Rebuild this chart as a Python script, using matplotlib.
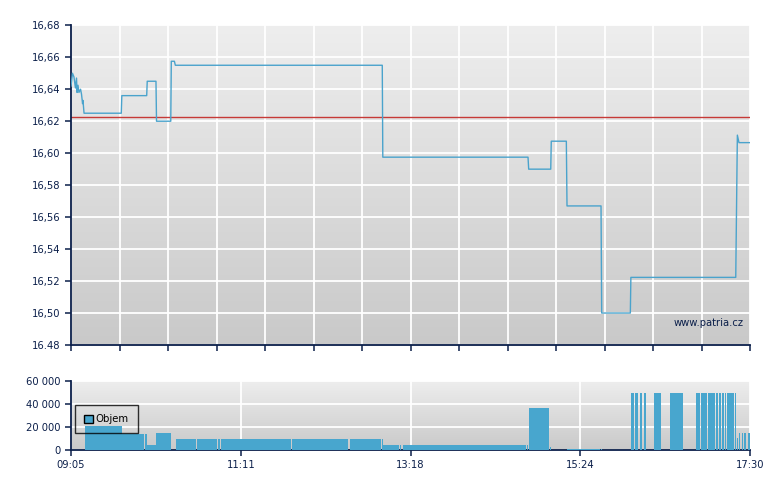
import numpy as np
import matplotlib
matplotlib.use("Agg")
import matplotlib.pyplot as plt
from matplotlib.ticker import FixedLocator, FuncFormatter
from matplotlib.patches import Patch

# times are minutes after the 09:05 open (session ends 17:30 = 505)
open_minute = 9 * 60 + 5
session_len = 505

price_t = [0, 1.1, 2.2, 3.3, 4.1, 4.5, 5.2, 5.9, 7.1, 7.8, 8.6, 8.9, 9.7,
           37.4, 37.8, 56.3, 56.7, 63.2, 63.6, 74.2, 74.6, 76.9, 77.6,
           231.5, 231.9, 339.9, 340.4, 356.8, 357.2, 368.4, 368.9,
           394.2, 394.7, 416.0, 416.4, 494.4, 495.6, 496.8, 505]
price = [16.642, 16.650, 16.6477, 16.6408, 16.647, 16.638, 16.6425, 16.638,
         16.640, 16.637, 16.631, 16.633, 16.625,
         16.625, 16.636, 16.636, 16.645, 16.645, 16.620, 16.620, 16.6575,
         16.6575, 16.655, 16.655, 16.5975, 16.5975, 16.590, 16.590, 16.6075,
         16.6075, 16.567, 16.567, 16.500, 16.500, 16.5223, 16.5223, 16.6113,
         16.6066, 16.6066]
prev_close = 16.6225

vol_start = [10.4, 37.9, 55.0, 56.5, 63.2, 78.1, 93.7, 109.3, 111.6, 164.4,
             207.5, 231.3, 232.0, 244.7, 246.9, 339.1, 340.6, 356.3, 368.9,
             394.2, 416.5, 419.5, 423.2, 426.2, 433.6, 445.5, 464.8, 468.6,
             473.8, 479.7, 482.0, 484.2, 486.4, 487.9, 493.8, 495.3, 496.8,
             499.0, 500.5, 503.5]
vol_end = [37.9, 54.3, 56.5, 63.2, 74.4, 93.0, 108.6, 110.8, 163.6, 206.0,
           230.6, 232.0, 243.9, 245.4, 338.4, 339.9, 355.5, 357.0, 393.4,
           394.9, 418.7, 421.7, 424.7, 427.7, 438.8, 455.2, 467.8, 473.0,
           479.0, 481.2, 483.4, 485.7, 487.1, 493.1, 494.6, 496.0, 497.5,
           499.8, 502.0, 505.0]
volume = [21000, 14100, 14100, 4600, 14700, 9500, 9500, 9500, 9500, 9500,
          9500, 9500, 4300, 4300, 4300, 4300, 36400, 2600, 900,
          900, 49400, 49400, 49400, 49400, 49400, 49400, 49400, 49400,
          49400, 49400, 49400, 49400, 49400, 49400, 49400, 10400, 14700,
          14700, 14700, 14700]

price_ticks = [16.48, 16.50, 16.52, 16.54, 16.56, 16.58, 16.60, 16.62, 16.64, 16.66, 16.68]
price_tick_labels = ["16.48", "16,50", "16,52", "16,54", "16,56", "16,58",
                     "16,60", "16,62", "16,64", "16,66", "16,68"]
vol_ticks = [0, 20000, 40000, 60000]
vol_tick_labels = ["0", "20 000", "40 000", "60 000"]

navy = "#0b1f4a"
blue = "#48a6ce"
plt.rcParams["font.family"] = "DejaVu Sans"
plt.rcParams["font.size"] = 7.2

fig = plt.figure(figsize=(7.8, 4.9), dpi=100)
ax = fig.add_axes([71 / 780, 1 - 345 / 490, 679 / 780, 319.7 / 490])
ax2 = fig.add_axes([71 / 780, 1 - 450 / 490, 679 / 780, 69.3 / 490])


def style(a, top, bottom):
    grad = np.linspace(0, 1, 256).reshape(-1, 1)
    a.imshow(grad, extent=[0, 1, 0, 1], transform=a.transAxes, aspect="auto",
             cmap=matplotlib.colors.LinearSegmentedColormap.from_list("bg", [top, bottom]),
             zorder=0)
    a.set_axisbelow(True)
    a.grid(True, color="white", linewidth=1.3)
    for s in ["top", "right"]:
        a.spines[s].set_visible(False)
    for s in ["left", "bottom"]:
        a.spines[s].set_color(navy)
        a.spines[s].set_linewidth(1.3)
    a.tick_params(colors=navy, direction="out", length=4, width=1.1, labelcolor=navy)


style(ax, "#eeeeee", "#c9c9c9")
style(ax2, "#eeeeee", "#c9c9c9")

ax.plot(price_t, price, color="#4aa3cc", linewidth=1.0, zorder=3)
ax.axhline(prev_close, color="#c63a36", linewidth=1.0, zorder=2)
ax.set_xlim(0, session_len)
ax.set_ylim(16.48, 16.68)
ax.xaxis.set_major_locator(FixedLocator(np.linspace(0, session_len, 15)))
ax.set_xticklabels([])
ax.set_yticks(price_ticks)
ax.set_yticklabels(price_tick_labels)
ax.text(0.99, 0.07, "www.patria.cz", transform=ax.transAxes, ha="right",
        va="center", color=navy, fontsize=7.2, zorder=4)

widths = [e - s for s, e in zip(vol_start, vol_end)]
ax2.bar(vol_start, volume, width=widths, align="edge", color=blue,
        linewidth=0, zorder=3)
ax2.set_xlim(0, session_len)
ax2.set_ylim(0, 60000)
ax2.xaxis.set_major_locator(FixedLocator(np.linspace(0, session_len, 5)))
ax2.xaxis.set_major_formatter(FuncFormatter(
    lambda v, p: "%02d:%02d" % divmod(int(round(open_minute + v)), 60)))
ax2.set_yticks(vol_ticks)
ax2.set_yticklabels(vol_tick_labels)

leg = ax2.legend(handles=[Patch(facecolor=blue, edgecolor="black", linewidth=1.0, label="Objem")],
                 loc="upper left", bbox_to_anchor=(0.006, 0.65), frameon=True,
                 fancybox=False, handlelength=0.85, handleheight=0.85,
                 handletextpad=0.3, borderpad=0.9, borderaxespad=0,
                 fontsize=7.3)
leg.get_frame().set_edgecolor("black")
leg.get_frame().set_facecolor("none")
leg.get_frame().set_linewidth(1.0)
leg.set_zorder(5)

fig.savefig("out.png", dpi=100)
